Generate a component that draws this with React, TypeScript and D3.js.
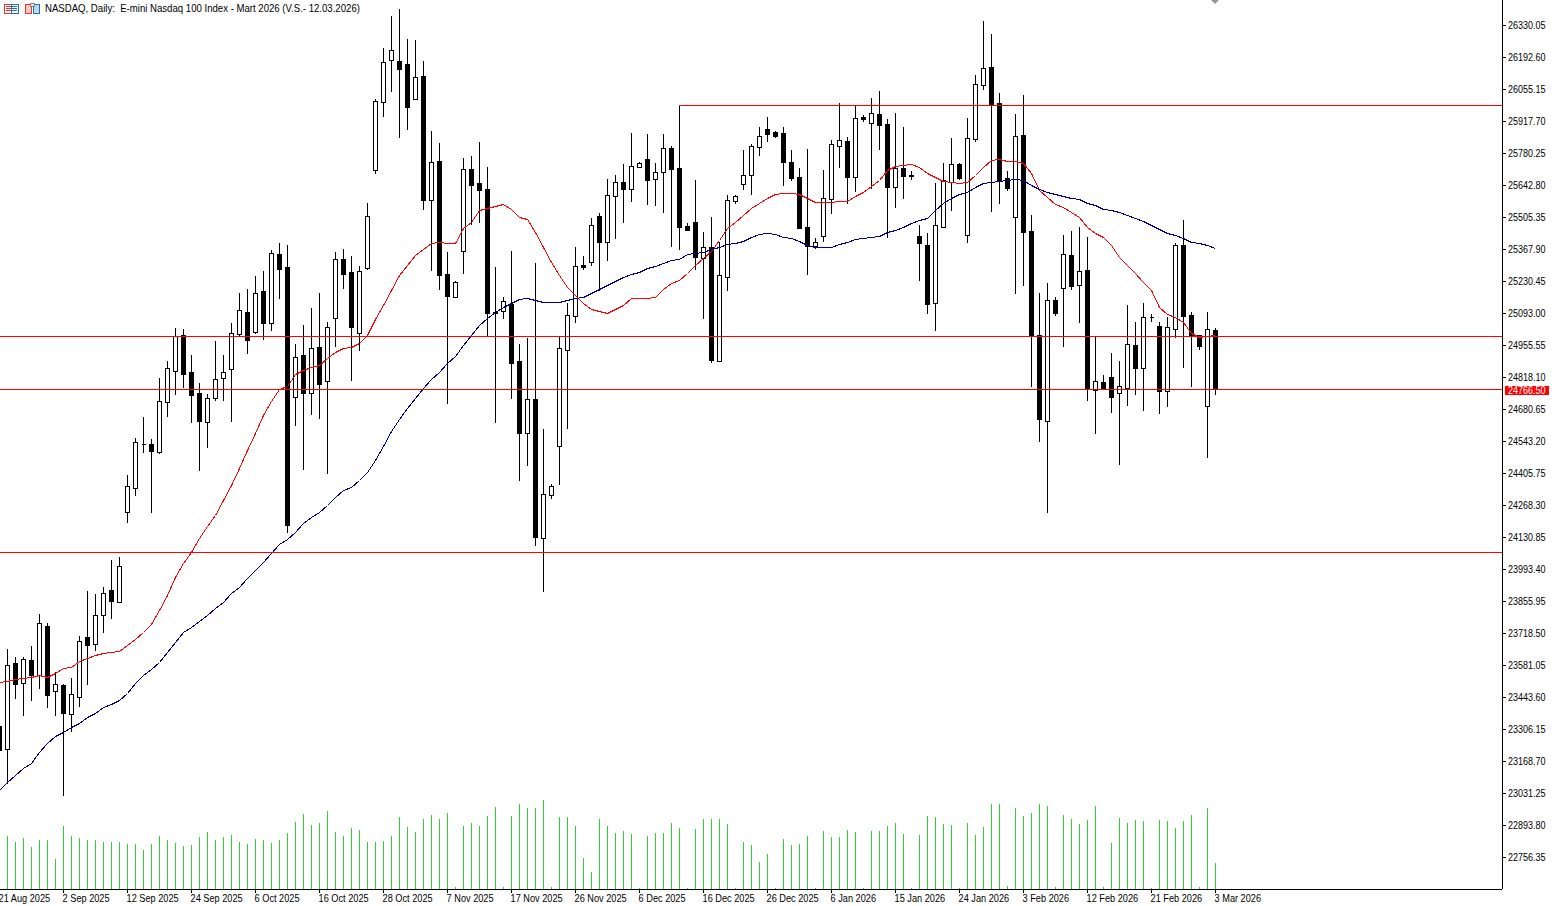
import React, { useRef, useEffect } from "react";
import * as d3 from "d3";

const WIDTH = 1552;
const HEIGHT = 906;
const FONT = "'Liberation Sans', Arial, sans-serif";

const TITLE = "NASDAQ, Daily:  E-mini Nasdaq 100 Index - Mart 2026 (V.S.- 12.03.2026)";

// bars run from index -1 (cut by the left edge) to 151 (the last session)
const highs = [
  23431, 23650, 23615, 23615, 23663, 23800, 23761, 23551, 23499, 23525, 23706,
  23899, 23886, 23916, 24032, 24045, 24397, 24556, 24646, 24552, 24814,
  24887, 25029, 25024, 24913, 24792, 24745, 24973, 24913, 25050, 25179,
  25196, 25252, 25273, 25364, 25394, 25385, 24960, 25041, 25114, 25179,
  25054, 25355, 25368, 25338, 25295, 25565, 26012, 26231, 26369, 26399,
  26270, 26266, 26175, 25875, 25823, 25355, 25230, 25759, 25767, 25828,
  25720, 25291, 25162, 25359, 24960, 24986, 25308, 24595, 24359, 24990,
  25136, 25376, 25338, 25501, 25523, 25669, 25686, 25733, 25866, 25742,
  25862, 25737, 25862, 25810, 25986, 25480, 25664, 25441, 25505, 25398,
  25600, 25600, 25793, 25819, 25892, 25935, 25875, 25892, 25793, 25716,
  25797, 25415, 25707, 25836, 25995, 25849, 25982, 25943, 26016, 26047,
  25926, 25952, 25892, 25703, 25471, 25437, 25651, 25737, 25845, 25737,
  25931, 26115, 26347, 26291, 26038, 25703, 25948, 26029, 25514, 25179,
  25222, 25162, 25428, 25445, 25462, 25419, 24990, 24827, 24921, 24887,
  25127, 25054, 25136, 25089, 25054, 25076, 25394, 25492, 25097, 24999,
  25097, 25029,
];
const opens = [
  23319, 23220, 23590, 23504, 23603, 23538, 23749, 23469, 23495, 23371, 23444,
  23701, 23671, 23796, 23903, 23852, 24238, 24341, 24530, 24530, 24496,
  24711, 24844, 24999, 24840, 24749, 24625, 24728, 24814, 24852, 25003,
  25097, 25011, 25187, 25050, 25346, 25291, 24732, 24913, 24749, 24947,
  24801, 25072, 25325, 25269, 25007, 25286, 25707, 25999, 26180, 26175,
  26163, 26012, 26111, 25578, 25746, 25261, 25162, 25359, 25712, 25651,
  25626, 25097, 25102, 25132, 24887, 24578, 24724, 24127, 24311, 24522,
  24934, 25080, 25299, 25312, 25510, 25398, 25596, 25656, 25626, 25720,
  25754, 25669, 25699, 25802, 25716, 25466, 25484, 25329, 25376, 24887,
  25248, 25574, 25647, 25686, 25806, 25883, 25870, 25866, 25742, 25677,
  25462, 25381, 25424, 25583, 25810, 25832, 25677, 25935, 25909, 25948,
  25905, 25634, 25716, 25686, 25424, 25385, 25136, 25462, 25656, 25733,
  25428, 25840, 26072, 26150, 25995, 25673, 25505, 25857, 25445, 24999,
  24629, 25149, 25200, 25342, 25213, 25278, 24762, 24797, 24818, 24749,
  24771, 24956, 24857, 25076, 25037, 24758, 25024, 25385, 25084, 24999,
  24694, 25020,
];
const closes = [
  23216, 23581, 23499, 23607, 23538, 23761, 23452, 23499, 23375, 23456, 23684,
  23667, 23796, 23890, 23856, 24006, 24350, 24539, 24530, 24500, 24715,
  24857, 24994, 24831, 24741, 24629, 24728, 24809, 24840, 25007, 25106,
  24977, 25179, 25050, 25351, 25282, 24182, 24904, 24749, 24943, 24788,
  25033, 25325, 25261, 25033, 25273, 25510, 26004, 26171, 26223, 26141,
  25978, 26107, 25578, 25742, 25256, 25166, 25226, 25712, 25643, 25621,
  25093, 25093, 25144, 24878, 24578, 24724, 24131, 24316, 24350, 24943,
  25084, 25295, 25291, 25471, 25398, 25600, 25656, 25626, 25724, 25737,
  25664, 25699, 25802, 25712, 25462, 25450, 25334, 25376, 24891, 25256,
  25578, 25596, 25686, 25810, 25853, 25862, 25853, 25742, 25673, 25458,
  25381, 25398, 25587, 25819, 25836, 25677, 25931, 25926, 25952, 25901,
  25634, 25716, 25681, 25681, 25394, 25132, 25471, 25664, 25733, 25673,
  25845, 26077, 26145, 25986, 25664, 25630, 25853, 25441, 24994, 24638,
  25149, 25093, 25346, 25209, 25273, 24766, 24801, 24766, 24732, 24779,
  24960, 24857, 25076, 25076, 24758, 25033, 25385, 25080, 24994, 24951,
  25024, 24766.5,
];
const lows = [
  23130, 23074, 23439, 23366, 23431, 23482, 23401, 23366, 23023, 23298, 23405,
  23499, 23646, 23723, 23783, 23852, 24195, 24311, 24496, 24238, 24492,
  24651, 24745, 24775, 24625, 24419, 24517, 24719, 24719, 24629, 24994,
  24921, 25007, 24981, 25020, 25157, 24152, 24612, 24423, 24659, 24642,
  24406, 24951, 25200, 24805, 24934, 25282, 25694, 25939, 26047, 25849,
  25883, 26012, 25540, 25278, 25196, 24706, 25162, 25265, 25475, 25484,
  24999, 24625, 25072, 24728, 24376, 24440, 24096, 23899, 24298, 24359,
  24599, 25054, 25282, 25299, 25192, 25321, 25415, 25484, 25574, 25720,
  25561, 25557, 25527, 25381, 25368, 25450, 25282, 25072, 24882, 24887,
  25192, 25565, 25626, 25604, 25772, 25832, 25849, 25643, 25664, 25458,
  25261, 25372, 25402, 25523, 25720, 25565, 25617, 25918, 25630, 25797,
  25419, 25548, 25587, 25669, 25235, 25093, 25020, 25462, 25535, 25669,
  25398, 25832, 26055, 25531, 25565, 25621, 25179, 25213, 24779, 24543,
  24238, 25084, 24951, 25196, 25054, 24719, 24578, 24766, 24668, 24444,
  24698, 24745, 24676, 25059, 24663, 24694, 24990, 24861, 24779, 24938,
  24474, 24745,
];
const volumes = [
  530, 530, 470, 510, 420, 490, 490, 300, 630, 530, 510,
  490, 490, 470, 470, 470, 450, 450, 390, 450, 530,
  490, 460, 430, 440, 520, 570, 490, 520, 540, 470,
  450, 500, 490, 460, 490, 560, 670, 750, 640, 660,
  780, 570, 530, 610, 590, 470, 470, 480, 530, 720,
  620, 570, 700, 740, 700, 760, 20, 630, 660, 630,
  730, 820, 20, 730, 850, 810, 810, 890, 20, 720,
  720, 630, 310, 170, 700, 630, 560, 580, 550, 10,
  530, 560, 560, 660, 610, 10, 600, 700, 700, 700,
  650, 10, 470, 440, 270, 350, 10, 500, 440, 450,
  530, 10, 580, 520, 520, 590, 570, 10, 580, 580,
  630, 660, 550, 10, 540, 730, 720, 650, 640, 10,
  660, 540, 620, 850, 850, 30, 810, 730, 760, 850,
  830, 20, 740, 700, 650, 690, 830, 20, 460, 710,
  660, 690, 680, 10, 690, 680, 610, 680, 740, 20,
  810, 260,
];
const redMa = [
  23508, 23512, 23521, 23525, 23530, 23538, 23530, 23547, 23568, 23572, 23598,
  23611, 23624, 23633, 23637, 23641, 23667, 23693, 23723, 23757, 23817,
  23882, 23959, 24019, 24066, 24126, 24178, 24225, 24290, 24354, 24427,
  24505, 24578, 24655, 24715, 24766, 24779, 24831, 24848, 24861, 24870,
  24900, 24925, 24943, 24947, 24964, 24999, 25067, 25127, 25192, 25256,
  25299, 25342, 25368, 25394, 25398, 25394, 25394, 25458, 25484, 25535,
  25544, 25553, 25561, 25540, 25505, 25497, 25441, 25376, 25312, 25256,
  25205, 25170, 25136, 25110, 25102, 25093, 25110, 25127, 25157, 25157,
  25157, 25162, 25196, 25222, 25235, 25265, 25299, 25329, 25359, 25407,
  25458, 25484, 25514, 25544, 25565, 25587, 25604, 25608, 25608, 25604,
  25587, 25570, 25570, 25570, 25574, 25574, 25596, 25613, 25638, 25664,
  25707, 25724, 25729, 25733, 25720, 25694, 25677, 25660, 25656, 25651,
  25656, 25686, 25720, 25750, 25754, 25746, 25746, 25737, 25694, 25621,
  25591, 25561, 25548, 25527, 25505, 25462, 25437, 25419, 25385, 25334,
  25299, 25265, 25226, 25192, 25119, 25089, 25076, 25054, 25007, 24990,
  24994, 24999,
];
const blueMa = [
  23044, 23079, 23109, 23139, 23160, 23207, 23246, 23276, 23293, 23315, 23332,
  23358, 23375, 23401, 23413, 23431, 23461, 23504, 23538, 23564, 23594,
  23637, 23680, 23723, 23744, 23770, 23796, 23826, 23852, 23890, 23916,
  23955, 23989, 24023, 24062, 24101, 24122, 24152, 24191, 24217, 24238,
  24268, 24302, 24333, 24346, 24376, 24410, 24462, 24522, 24585, 24637,
  24685, 24728, 24771, 24809, 24840, 24878, 24908, 24956, 24999, 25041,
  25072, 25097, 25119, 25136, 25153, 25157, 25149, 25140, 25140, 25140,
  25149, 25157, 25162, 25179, 25196, 25213, 25230, 25248, 25261, 25269,
  25286, 25295, 25308, 25321, 25325, 25346, 25351, 25355, 25368, 25376,
  25389, 25394, 25402, 25419, 25432, 25437, 25432, 25419, 25415, 25402,
  25385, 25376, 25376, 25376, 25389, 25398, 25411, 25415, 25419, 25424,
  25441, 25449, 25462, 25480, 25492, 25501, 25535, 25565, 25587, 25604,
  25613, 25634, 25651, 25656, 25660, 25664, 25669, 25664, 25643, 25626,
  25613, 25604, 25596, 25587, 25583, 25565, 25557, 25540, 25535, 25527,
  25514, 25501, 25488, 25471, 25454, 25437, 25428, 25415, 25398, 25394,
  25385, 25372,
];

const priceTicks = [
  26330.05, 26192.6, 26055.15, 25917.7, 25780.25, 25642.8, 25505.35, 25367.9,
  25230.45, 25093.0, 24955.55, 24818.1, 24680.65, 24543.2, 24405.75, 24268.3,
  24130.85, 23993.4, 23855.95, 23718.5, 23581.05, 23443.6, 23306.15, 23168.7,
  23031.25, 22893.8, 22756.35,
];
const dateLabels = [
  "21 Aug 2025", "2 Sep 2025", "12 Sep 2025", "24 Sep 2025", "6 Oct 2025",
  "16 Oct 2025", "28 Oct 2025", "7 Nov 2025", "17 Nov 2025", "26 Nov 2025",
  "6 Dec 2025", "16 Dec 2025", "26 Dec 2025", "6 Jan 2026", "15 Jan 2026",
  "24 Jan 2026", "3 Feb 2026", "12 Feb 2026", "21 Feb 2026", "3 Mar 2026",
];
const dateTickBars = [-1, 7, 15, 23, 31, 39, 47, 55, 63, 71, 79, 87, 95, 103, 111, 119, 127, 135, 143, 151];

// horizontal levels drawn on the chart, resistance starts at the high of bar 84
const levels = [
  { price: 25986, fromBar: 84 },
  { price: 24994, fromBar: -1 },
  { price: 24766.5, fromBar: -1 },
  { price: 24066, fromBar: -1 },
];
const lastPrice = 24766.5;

function drawChart(svgElement: SVGSVGElement) {
  const margin = { right: 50, bottom: 17 };
  const plotRight = WIDTH - margin.right;
  const plotBottom = HEIGHT - margin.bottom;

  const svg = d3.select(svgElement);
  const bars = d3.range(highs.length);

  const x = d3.scaleLinear().domain([0, 152]).range([-1, 1215]);
  const y = d3.scaleLinear().domain([26330.05, 22756.35]).range([25, 857]);
  const volY = d3.scaleLinear().domain([0, 890]).range([plotBottom, plotBottom - 89]);
  const px = (i: number) => Math.round(x(i));
  const py = (v: number) => Math.round(y(v));

  // volume
  svg
    .append("g")
    .selectAll("rect")
    .data(bars)
    .enter()
    .append("rect")
    .attr("x", (i) => px(i))
    .attr("y", (i) => Math.round(volY(volumes[i])))
    .attr("width", 1)
    .attr("height", (i) => plotBottom - Math.round(volY(volumes[i])))
    .attr("fill", "#32cd32");

  // candles
  const candles = svg.append("g").attr("shape-rendering", "crispEdges");
  candles
    .selectAll("line")
    .data(bars)
    .enter()
    .append("line")
    .attr("x1", (i) => px(i) + 0.5)
    .attr("x2", (i) => px(i) + 0.5)
    .attr("y1", (i) => py(highs[i]))
    .attr("y2", (i) => py(lows[i]) + 1)
    .attr("stroke", "#000");
  candles
    .selectAll("path")
    .data(bars)
    .enter()
    .append("path")
    .attr("d", (i) => {
      const top = py(Math.max(opens[i], closes[i])) + 0.5;
      const bottom = py(Math.min(opens[i], closes[i])) + 0.5;
      const p = d3.path();
      p.rect(px(i) - 1.5, top, 4, bottom - top);
      return p.toString();
    })
    .attr("fill", (i) => (closes[i] >= opens[i] ? "#fff" : "#000"))
    .attr("stroke", "#000");

  // moving averages
  const maLine = d3
    .line<number>()
    .x((_, i) => px(i) + 0.5)
    .y((v) => py(v) + 0.5);
  [
    { values: redMa, color: "#ff0000" },
    { values: blueMa, color: "#000080" },
  ].forEach((ma) => {
    svg
      .append("path")
      .attr("d", maLine(ma.values))
      .attr("fill", "none")
      .attr("stroke", ma.color)
      .attr("shape-rendering", "crispEdges");
  });

  // levels
  svg
    .append("g")
    .selectAll("line")
    .data(levels)
    .enter()
    .append("line")
    .attr("x1", (d) => (d.fromBar < 0 ? 0 : px(d.fromBar + 1)))
    .attr("x2", plotRight)
    .attr("y1", (d) => py(d.price) + 0.5)
    .attr("y2", (d) => py(d.price) + 0.5)
    .attr("stroke", "#ff0000")
    .attr("shape-rendering", "crispEdges");

  // price axis, the terminal font is narrower so the labels get squeezed
  const yAxis = svg
    .append("g")
    .attr("transform", `translate(${plotRight}, 0)`)
    .call(
      d3
        .axisRight(y)
        .tickValues(priceTicks)
        .tickSize(4)
        .tickPadding(2)
        .tickFormat((d) => (d as number).toFixed(2))
    );
  yAxis.select(".domain").remove();
  yAxis
    .append("line")
    .attr("x1", 0.5)
    .attr("x2", 0.5)
    .attr("y1", 0)
    .attr("y2", plotBottom)
    .attr("stroke", "#000");
  yAxis.selectAll("line").attr("shape-rendering", "crispEdges");
  yAxis
    .selectAll("text")
    .attr("font-family", FONT)
    .attr("font-size", 10)
    .attr("fill", "#000")
    .attr("x", 6 / 0.9)
    .attr("dy", "0.38em")
    .attr("transform", "scale(0.9, 1)");

  // date axis
  const xAxis = svg
    .append("g")
    .attr("transform", `translate(0, ${plotBottom})`)
    .call(
      d3
        .axisBottom(x)
        .tickValues(dateTickBars.map((b) => b + 1))
        .tickSize(4)
        .tickPadding(2)
        .tickFormat((_, i) => dateLabels[i])
    );
  xAxis.select(".domain").remove();
  xAxis
    .append("line")
    .attr("x1", 0)
    .attr("x2", plotRight)
    .attr("y1", 0.5)
    .attr("y2", 0.5)
    .attr("stroke", "#000");
  xAxis.selectAll("line").attr("shape-rendering", "crispEdges");
  xAxis
    .selectAll("text")
    .attr("font-family", FONT)
    .attr("font-size", 10)
    .attr("fill", "#000")
    .attr("text-anchor", "start")
    .attr("x", -1)
    .attr("transform", "scale(0.92, 1)");

  // last price tag
  const tag = svg.append("g").attr("transform", `translate(${plotRight + 3}, ${py(lastPrice) - 3})`);
  tag.append("rect").attr("width", 44).attr("height", 9).attr("fill", "#ff0000");
  tag
    .append("text")
    .attr("x", 3)
    .attr("y", 8)
    .attr("font-family", FONT)
    .attr("font-size", 10)
    .attr("fill", "#fff")
    .attr("transform", "translate(0.3, 0) scale(0.9, 1)")
    .text(lastPrice.toFixed(2));

  // title
  svg
    .append("text")
    .attr("transform", "translate(45, 12) scale(0.924, 1)")
    .attr("font-family", FONT)
    .attr("font-size", 10.4)
    .attr("fill", "#000")
    .style("white-space", "pre")
    .text(TITLE);

  // toolbar icons next to the title
  const icons = svg.append("g").attr("shape-rendering", "crispEdges");
  icons.append("rect").attr("x", 4.5).attr("y", 4.5).attr("width", 7).attr("height", 9).attr("fill", "#fff").attr("stroke", "#e0392b");
  icons.append("rect").attr("x", 11.5).attr("y", 4.5).attr("width", 7).attr("height", 9).attr("fill", "#fff").attr("stroke", "#1f6fb5");
  [6.5, 8.5, 10.5].forEach((ly) => {
    icons.append("line").attr("x1", 6).attr("x2", 11).attr("y1", ly).attr("y2", ly).attr("stroke", "#e0392b");
    icons.append("line").attr("x1", 12).attr("x2", 17).attr("y1", ly).attr("y2", ly).attr("stroke", "#1f6fb5");
  });
  icons.append("path").attr("d", "M25.5 4.5H31.5V13.5H25.5Z").attr("fill", "#f7c8bf").attr("stroke", "#e0392b");
  icons.append("path").attr("d", "M33.5 4.5H39.5V13.5H33.5Z").attr("fill", "#bcd9ee").attr("stroke", "#1f6fb5");
  icons.append("rect").attr("x", 30.5).attr("y", 3.5).attr("width", 4).attr("height", 3).attr("fill", "#ddd").attr("stroke", "#888");

  // chart shift marker
  svg.append("path").attr("d", d3.line()([[1211, 0], [1219, 0], [1215, 4]])).attr("fill", "#999");
}

const App: React.FunctionComponent = function () {
  const svgRef = useRef<SVGSVGElement>(null);

  useEffect(() => {
    if (svgRef.current == null) {
      return;
    }
    d3.select(svgRef.current).selectAll("*").remove();
    drawChart(svgRef.current);
  }, []);

  return (
    <svg
      ref={svgRef}
      width={WIDTH}
      height={HEIGHT}
      style={{ position: "absolute", left: 0, top: 0, background: "#fff" }}
    />
  );
};

export default App;
